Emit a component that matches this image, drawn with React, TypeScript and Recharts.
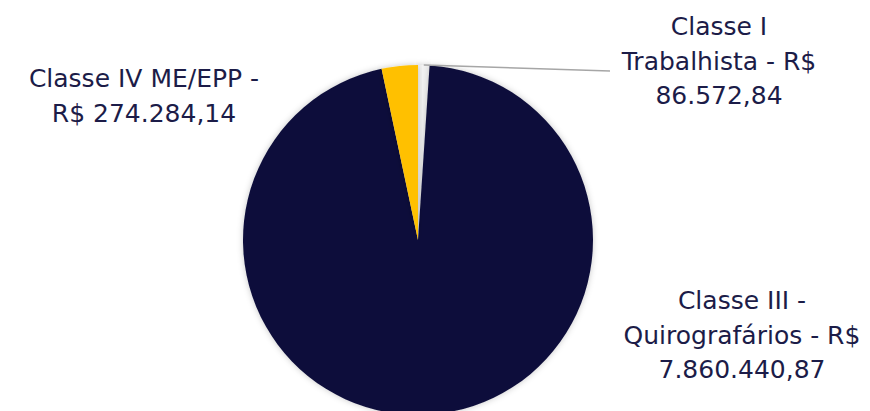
import { PieChart, Pie, Cell } from "recharts";

const classNames = ["Classe I Trabalhista", "Classe III Quirografários", "Classe IV ME/EPP"];
const amounts = [86572.84, 7860440.87, 274284.14];
const labelLines = [
    ["Classe I", "Trabalhista - R$", "86.572,84"],
    ["Classe III -", "Quirografários - R$", "7.860.440,87"],
    ["Classe IV ME/EPP -", "R$ 274.284,14"],
];
const colors = ["#F2F2F2", "#0E0F3B", "#FFC000"];

const data = classNames.map((name, i) => ({ name, value: amounts[i] }));

// where each label block sits (centre x, first baseline y)
const labelPos = [
    { x: 719, y: 35 },
    { x: 742, y: 309 },
    { x: 144, y: 87 },
];

const textColor = "#1C1C48";

function renderLabel(props: any) {
    const { index, cx, cy, outerRadius, startAngle, endAngle } = props;
    const pos = labelPos[index];
    const lines = labelLines[index];
    const RAD = Math.PI / 180;
    const mid = (startAngle + endAngle) / 2;
    const sx = cx + outerRadius * Math.cos(-mid * RAD);
    const sy = cy + outerRadius * Math.sin(-mid * RAD);
    return (
        <g key={`lbl-${index}`}>
            {index === 0 && (
                <line x1={sx} y1={sy} x2={610} y2={71} stroke="#A6A6A6" strokeWidth={1.5} />
            )}
            <text
                x={pos.x}
                y={pos.y}
                textAnchor="middle"
                fill={textColor}
                fontSize={25}
                fontFamily="'DejaVu Sans', sans-serif"
            >
                {lines.map((l, j) => (
                    <tspan key={j} x={pos.x} dy={j === 0 ? 0 : 34.5}>
                        {l}
                    </tspan>
                ))}
            </text>
        </g>
    );
}

export default function App() {
    return (
        <div style={{ position: "absolute", left: 0, top: 0, width: 870, height: 411, background: "#fff" }}>
            <PieChart width={870} height={411} margin={{ top: 0, right: 0, bottom: 0, left: 0 }}>
                <defs>
                    <filter id="pieShadow" x="-10%" y="-10%" width="120%" height="120%">
                        <feDropShadow dx="0" dy="0" stdDeviation="3" floodColor="#000" floodOpacity="0.22" />
                    </filter>
                </defs>
                <Pie
                    data={data}
                    dataKey="value"
                    nameKey="name"
                    cx={418}
                    cy={240}
                    outerRadius={175}
                    startAngle={90}
                    endAngle={-270}
                    stroke="none"
                    label={renderLabel}
                    labelLine={false}
                    isAnimationActive={false}
                >
                    {data.map((d, i) => (
                        <Cell key={d.name} fill={colors[i]} filter="url(#pieShadow)" />
                    ))}
                </Pie>
            </PieChart>
        </div>
    );
}
